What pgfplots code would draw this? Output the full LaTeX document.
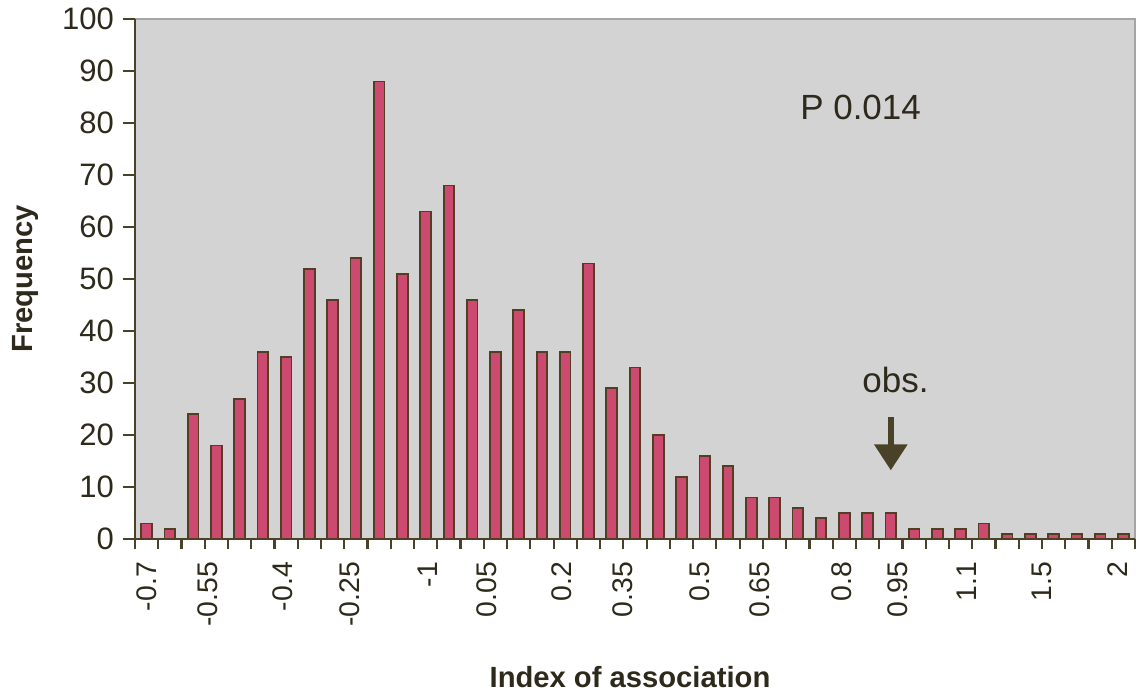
\documentclass[border=0pt]{standalone}
\usepackage{fontspec}
\setmainfont{Liberation Sans}
\usepackage{pgfplots}
\pgfplotsset{compat=1.18}
\usetikzlibrary{arrows.meta}

\definecolor{bggray}{RGB}{212,211,211}
\definecolor{framegray}{RGB}{165,165,165}
\definecolor{barpink}{RGB}{204,74,112}
\definecolor{bardark}{RGB}{82,62,34}
\definecolor{axdark}{RGB}{74,66,40}
\definecolor{txtdark}{RGB}{45,42,28}

\pgfplotstableread{
idx freq
0 3
1 2
2 24
3 18
4 27
5 36
6 35
7 52
8 46
9 54
10 88
11 51
12 63
13 68
14 46
15 36
16 44
17 36
18 36
19 53
20 29
21 33
22 20
23 12
24 16
25 14
26 8
27 8
28 6
29 4
30 5
31 5
32 5
33 2
34 2
35 2
36 3
37 1
38 1
39 1
40 1
41 1
42 1
}\freqtable

\begin{document}
\begin{tikzpicture}
\begin{axis}[
    scale only axis,
    width=500pt, height=260pt,
    xmin=-0.5, xmax=42.5,
    ymin=0, ymax=100,
    axis lines*=left,
    axis line style={draw=axdark, line width=1.4pt},
    axis background/.style={fill=bggray, draw=framegray, line width=0.6pt},
    tick align=outside,
    ytick={0,10,...,100},
    major tick length=6pt,
    major y tick style={draw=axdark, line width=1.1pt},
    yticklabel style={font=\fontsize{15.5}{18}\selectfont, text=txtdark, xshift=-1pt},
    /pgf/number format/assume math mode=true,
    xtick={0,2.64,5.86,8.74,12.1,14.63,17.86,20.48,23.8,26.37,29.9,32.3,35.27,38.5,41.77},
    xticklabels={-0.7,-0.55,-0.4,-0.25,-1,0.05,0.2,0.35,0.5,0.65,0.8,0.95,1.1,1.5,2},
    major x tick style={draw=none},
    minor xtick={-0.5,0.5,...,42.5},
    minor tick length=5pt,
    minor x tick style={draw=axdark, line width=1.1pt},
    xticklabel style={font=\fontsize{14.2}{16}\selectfont, text=txtdark, rotate=90, anchor=east},
    xticklabel shift=2pt,
    xlabel={\textbf{Index of association}},
    ylabel={\textbf{Frequency}},
    xlabel style={font=\fontsize{14.6}{17}\selectfont, text=txtdark, at={(axis description cs:0.495,-0.265)}, anchor=center},
    ylabel style={font=\fontsize{14.6}{17}\selectfont, text=txtdark, at={(axis description cs:-0.11,0.5)}, anchor=center},
    clip=false,
]
\coordinate (ll) at (rel axis cs:0,0);
\coordinate (ur) at (rel axis cs:1,1);
\addplot[ybar, bar width=0.46, fill=barpink, draw=bardark, line width=0.9pt]
    table[x=idx, y=freq] {\freqtable};
\node[font=\fontsize{17.5}{20}\selectfont, text=txtdark] at (axis cs:30.7,83) {P 0.014};
\node[font=\fontsize{17.5}{20}\selectfont, text=txtdark] at (axis cs:32.2,30.5) {obs.};
\draw[draw=axdark, line width=3pt, -{Triangle[width=16pt, length=13pt]}]
    (axis cs:32,23.5) -- (axis cs:32,13.2);
\end{axis}
\path[use as bounding box] ([shift={(-67.5pt,-79pt)}]ll) rectangle ([shift={(5pt,9.5pt)}]ur);
\end{tikzpicture}
\end{document}
